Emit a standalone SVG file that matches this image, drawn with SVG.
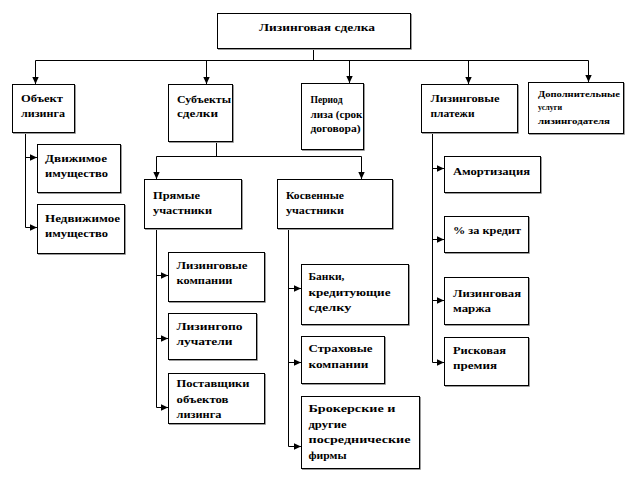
<svg xmlns="http://www.w3.org/2000/svg" width="627" height="480" viewBox="0 0 627 480" font-family="'Liberation Serif', 'DejaVu Serif', serif">
<defs>
<style>
.bg{fill:#fff}
.box{fill:#fff;stroke:#000;stroke-width:1}
.sh{fill:none;stroke:#9a9a9a;stroke-width:1}
.ln{fill:none;stroke:#000;stroke-width:1}
.t{font-family:'Liberation Serif','DejaVu Serif',serif;font-weight:bold;font-size:10px;fill:#000}
.s{font-size:8px}
</style>
<marker id="ar" markerUnits="userSpaceOnUse" markerWidth="8" markerHeight="8" refX="7" refY="4" orient="auto">
<path d="M0,0.8 L7,4 L0,7.2 Z" fill="#000"/>
</marker>
</defs>
<rect class="bg" x="0" y="0" width="627" height="480"/>

<g id="connectors">
<path class="ln" d="M313.5,48 V60.5 M35.5,60.5 H588.5"/>
<path class="ln" d="M35.5,60.5 V84" marker-end="url(#ar)"/>
<path class="ln" d="M206.5,60.5 V84" marker-end="url(#ar)"/>
<path class="ln" d="M349.5,60.5 V83" marker-end="url(#ar)"/>
<path class="ln" d="M468.5,60.5 V84" marker-end="url(#ar)"/>
<path class="ln" d="M588.5,60.5 V82" marker-end="url(#ar)"/>

<path class="ln" d="M25.5,132 V227.5"/>
<path class="ln" d="M25.5,157.5 H37" marker-end="url(#ar)"/>
<path class="ln" d="M25.5,227.5 H37" marker-end="url(#ar)"/>

<path class="ln" d="M216.5,141 V156.5 M156.5,156.5 H361.5"/>
<path class="ln" d="M156.5,156.5 V179" marker-end="url(#ar)"/>
<path class="ln" d="M361.5,156.5 V179" marker-end="url(#ar)"/>

<path class="ln" d="M156.5,228 V407.5"/>
<path class="ln" d="M156.5,275.5 H168" marker-end="url(#ar)"/>
<path class="ln" d="M156.5,338.5 H168" marker-end="url(#ar)"/>
<path class="ln" d="M156.5,407.5 H168" marker-end="url(#ar)"/>

<path class="ln" d="M288.5,228 V446.5"/>
<path class="ln" d="M288.5,288.5 H301" marker-end="url(#ar)"/>
<path class="ln" d="M288.5,362.5 H301" marker-end="url(#ar)"/>
<path class="ln" d="M288.5,446.5 H301" marker-end="url(#ar)"/>

<path class="ln" d="M432.5,132 V362.5"/>
<path class="ln" d="M432.5,168.5 H444" marker-end="url(#ar)"/>
<path class="ln" d="M432.5,239.5 H444" marker-end="url(#ar)"/>
<path class="ln" d="M432.5,300.5 H444" marker-end="url(#ar)"/>
<path class="ln" d="M432.5,362.5 H444" marker-end="url(#ar)"/>
</g>

<g id="n-root">
<path class="sh" d="M411.5,14 V49.5 H218"/>
<rect class="box" x="217.5" y="13.5" width="193" height="35"/>
<text class="t" x="259" y="31" textLength="116" lengthAdjust="spacingAndGlyphs">Лизинговая  сделка</text>
</g>

<g id="n-object">
<path class="sh" d="M75.5,85 V133.5 H13"/>
<rect class="box" x="12.5" y="84.5" width="62" height="48"/>
<text class="t" x="21" y="102" textLength="42" lengthAdjust="spacingAndGlyphs">Объект</text>
<text class="t" x="21" y="117" textLength="44" lengthAdjust="spacingAndGlyphs">лизинга</text>
</g>

<g id="n-movable">
<path class="sh" d="M121.5,145 V193.5 H38"/>
<rect class="box" x="37.5" y="144.5" width="83" height="48"/>
<text class="t" x="45" y="162" textLength="62" lengthAdjust="spacingAndGlyphs">Движимое</text>
<text class="t" x="45" y="177" textLength="63" lengthAdjust="spacingAndGlyphs">имущество</text>
</g>

<g id="n-immovable">
<path class="sh" d="M125.5,205 V254.5 H38"/>
<rect class="box" x="37.5" y="204.5" width="87" height="49"/>
<text class="t" x="45" y="222" textLength="75" lengthAdjust="spacingAndGlyphs">Недвижимое</text>
<text class="t" x="45" y="237" textLength="63" lengthAdjust="spacingAndGlyphs">имущество</text>
</g>

<g id="n-subjects">
<path class="sh" d="M233.5,85 V142.5 H169"/>
<rect class="box" x="168.5" y="84.5" width="64" height="57"/>
<text class="t" x="177" y="102.5" textLength="54" lengthAdjust="spacingAndGlyphs">Субъекты</text>
<text class="t" x="177" y="117" textLength="41" lengthAdjust="spacingAndGlyphs">сделки</text>
</g>

<g id="n-period">
<path class="sh" d="M364.5,84 V150.5 H302"/>
<rect class="box" x="301.5" y="83.5" width="62" height="66"/>
<text class="t" x="310.5" y="103" textLength="32" lengthAdjust="spacingAndGlyphs">Период</text>
<text class="t" x="310.5" y="117.5" textLength="52" lengthAdjust="spacingAndGlyphs">лиза (срок</text>
<text class="t" x="310.5" y="131.5" textLength="50" lengthAdjust="spacingAndGlyphs">договора)</text>
</g>

<g id="n-payments">
<path class="sh" d="M518.5,85 V133.5 H422"/>
<rect class="box" x="421.5" y="84.5" width="96" height="48"/>
<text class="t" x="430.5" y="102" textLength="69" lengthAdjust="spacingAndGlyphs">Лизинговые</text>
<text class="t" x="430.5" y="117" textLength="44" lengthAdjust="spacingAndGlyphs">платежи</text>
</g>

<g id="n-extra">
<path class="sh" d="M624.5,83 V134.5 H529"/>
<rect class="box" x="528.5" y="82.5" width="95" height="51"/>
<text class="t s" x="538" y="97" textLength="82" lengthAdjust="spacingAndGlyphs">Дополнительные</text>
<text class="t s" x="538" y="110" textLength="24" lengthAdjust="spacingAndGlyphs">услуги</text>
<text class="t s" x="538" y="123.5" textLength="72" lengthAdjust="spacingAndGlyphs">лизингодателя</text>
</g>

<g id="n-direct">
<path class="sh" d="M242.5,180 V229.5 H145"/>
<rect class="box" x="144.5" y="179.5" width="97" height="49"/>
<text class="t" x="153" y="198.5" textLength="47" lengthAdjust="spacingAndGlyphs">Прямые</text>
<text class="t" x="153" y="213.5" textLength="59" lengthAdjust="spacingAndGlyphs">участники</text>
</g>

<g id="n-indirect">
<path class="sh" d="M393.5,180 V229.5 H278"/>
<rect class="box" x="277.5" y="179.5" width="115" height="49"/>
<text class="t" x="286" y="198.5" textLength="58" lengthAdjust="spacingAndGlyphs">Косвенные</text>
<text class="t" x="286" y="213.5" textLength="58" lengthAdjust="spacingAndGlyphs">участники</text>
</g>

<g id="n-leasing-companies">
<path class="sh" d="M265.5,253 V302.5 H169"/>
<rect class="box" x="168.5" y="252.5" width="96" height="49"/>
<text class="t" x="176.5" y="268.5" textLength="71" lengthAdjust="spacingAndGlyphs">Лизинговые</text>
<text class="t" x="176.5" y="283.5" textLength="56" lengthAdjust="spacingAndGlyphs">компании</text>
</g>

<g id="n-lessees">
<path class="sh" d="M257.5,314 V360.5 H169"/>
<rect class="box" x="168.5" y="313.5" width="88" height="46"/>
<text class="t" x="176.5" y="330" textLength="66" lengthAdjust="spacingAndGlyphs">Лизингопо</text>
<text class="t" x="176.5" y="345" textLength="56" lengthAdjust="spacingAndGlyphs">лучатели</text>
</g>

<g id="n-suppliers">
<path class="sh" d="M265.5,374 V424.5 H169"/>
<rect class="box" x="168.5" y="373.5" width="96" height="50"/>
<text class="t" x="176.5" y="387" textLength="73" lengthAdjust="spacingAndGlyphs">Поставщики</text>
<text class="t" x="176.5" y="402.5" textLength="52" lengthAdjust="spacingAndGlyphs">объектов</text>
<text class="t" x="176.5" y="418" textLength="45" lengthAdjust="spacingAndGlyphs">лизинга</text>
</g>

<g id="n-banks">
<path class="sh" d="M409.5,265 V325.5 H302"/>
<rect class="box" x="301.5" y="264.5" width="107" height="60"/>
<text class="t" x="308.5" y="280" textLength="36" lengthAdjust="spacingAndGlyphs">Банки,</text>
<text class="t" x="308.5" y="296" textLength="82" lengthAdjust="spacingAndGlyphs">кредитующие</text>
<text class="t" x="308.5" y="311" textLength="43" lengthAdjust="spacingAndGlyphs">сделку</text>
</g>

<g id="n-insurance">
<path class="sh" d="M385.5,337 V384.5 H302"/>
<rect class="box" x="301.5" y="336.5" width="83" height="47"/>
<text class="t" x="308.5" y="352" textLength="64" lengthAdjust="spacingAndGlyphs">Страховые</text>
<text class="t" x="308.5" y="367.5" textLength="60" lengthAdjust="spacingAndGlyphs">компании</text>
</g>

<g id="n-brokers">
<path class="sh" d="M420.5,397 V469.5 H302"/>
<rect class="box" x="301.5" y="396.5" width="118" height="72"/>
<text class="t" x="308.5" y="412" textLength="87" lengthAdjust="spacingAndGlyphs">Брокерские и</text>
<text class="t" x="308.5" y="427.5" textLength="38" lengthAdjust="spacingAndGlyphs">другие</text>
<text class="t" x="308.5" y="443" textLength="102" lengthAdjust="spacingAndGlyphs">посреднические</text>
<text class="t" x="308.5" y="458.5" textLength="38" lengthAdjust="spacingAndGlyphs">фирмы</text>
</g>

<g id="n-amortization">
<path class="sh" d="M541.5,157 V193.5 H445"/>
<rect class="box" x="444.5" y="156.5" width="96" height="36"/>
<text class="t" x="453" y="175" textLength="77" lengthAdjust="spacingAndGlyphs">Амортизация</text>
</g>

<g id="n-credit">
<path class="sh" d="M529.5,217 V253.5 H445"/>
<rect class="box" x="444.5" y="216.5" width="84" height="36"/>
<text class="t" x="453" y="233.5" textLength="68" lengthAdjust="spacingAndGlyphs">% за кредит</text>
</g>

<g id="n-margin">
<path class="sh" d="M529.5,278 V325.5 H445"/>
<rect class="box" x="444.5" y="277.5" width="84" height="47"/>
<text class="t" x="453" y="297" textLength="68" lengthAdjust="spacingAndGlyphs">Лизинговая</text>
<text class="t" x="453" y="312" textLength="38" lengthAdjust="spacingAndGlyphs">маржа</text>
</g>

<g id="n-risk">
<path class="sh" d="M529.5,338 V386.5 H445"/>
<rect class="box" x="444.5" y="337.5" width="84" height="48"/>
<text class="t" x="453" y="354" textLength="53" lengthAdjust="spacingAndGlyphs">Рисковая</text>
<text class="t" x="453" y="369" textLength="44" lengthAdjust="spacingAndGlyphs">премия</text>
</g>
</svg>
